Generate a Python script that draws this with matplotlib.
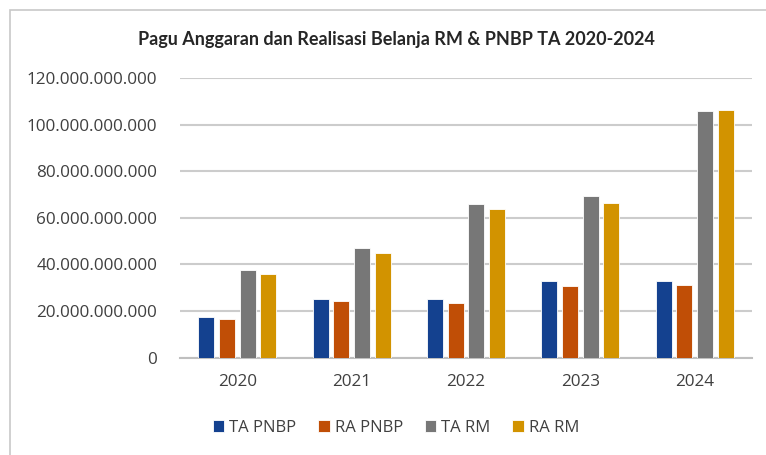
import numpy as np
import matplotlib
matplotlib.use('Agg')
import matplotlib.pyplot as plt
from matplotlib.patches import Rectangle
from matplotlib.ticker import FuncFormatter

plt.rcParams['font.family'] = ['Open Sans', 'DejaVu Sans']

years = ['2020', '2021', '2022', '2023', '2024']
series = ['TA PNBP', 'RA PNBP', 'TA RM', 'RA RM']
ta_pnbp = [17.6e9, 25.3e9, 25.0e9, 32.9e9, 32.9e9]
ra_pnbp = [16.5e9, 24.3e9, 23.3e9, 30.6e9, 31.2e9]
ta_rm = [37.6e9, 46.9e9, 66.0e9, 69.4e9, 106.0e9]
ra_rm = [35.9e9, 45.0e9, 64.0e9, 66.4e9, 106.3e9]
colors = ['#14418f', '#c04e06', '#777777', '#d29300']


def fmt(v, pos):
    return '{:,.0f}'.format(v).replace(',', '.')


def visualizer():
    fig = plt.figure(figsize=(7.66, 4.55), dpi=100)
    ax = fig.add_axes([180 / 766, 1 - 357.7 / 455, 572 / 766, (357.7 - 78) / 455])

    x = np.arange(len(years))
    width = 0.14
    step = 0.181
    data = [ta_pnbp, ra_pnbp, ta_rm, ra_rm]
    for i, vals in enumerate(data):
        ax.bar(x + (i - 1.5) * step, vals, width, color=colors[i],
               edgecolor='white', linewidth=0.6, label=series[i], zorder=3)

    ax.set_xlim(-0.5, 4.5)
    ax.set_ylim(0, 120e9)
    ax.set_yticks(np.arange(0, 121e9, 20e9))
    ax.yaxis.set_major_formatter(FuncFormatter(fmt))
    ax.set_xticks(x)
    ax.set_xticklabels(years)
    ax.grid(axis='y', color='#cccccc', linewidth=1.5, zorder=0)
    for s in ['top', 'right', 'left']:
        ax.spines[s].set_visible(False)
    ax.spines['bottom'].set_color('#bfbfbf')
    ax.spines['bottom'].set_linewidth(1.5)
    ax.tick_params(axis='both', length=0, labelsize=12.3, colors='#404040')
    ax.tick_params(axis='y', pad=16.5)
    ax.tick_params(axis='x', pad=12)

    fig.text(396 / 766, 1 - 40 / 455, 'Pagu Anggaran dan Realisasi Belanja RM & PNBP TA 2020-2024',
             ha='center', va='center', fontsize=13, fontweight='bold',
             family='Lato', color='#262626')

    fig.legend(loc='center', bbox_to_anchor=(396 / 766, 1 - 428 / 455), ncol=4,
               frameon=False, handlelength=0.7, handleheight=0.7, handletextpad=0.3,
               columnspacing=1.3, prop={'family': 'Open Sans', 'size': 12},
               labelcolor='#404040')

    # light frame round the chart, open at right and bottom
    fig.patches.append(Rectangle((9.5 / 766, -0.2), 1.5, 1.2 - 9.5 / 455,
                                 transform=fig.transFigure, fill=False,
                                 edgecolor='#c8c8c8', linewidth=1.2))

    fig.savefig('out.png', dpi=100)


if __name__ == '__main__':
    visualizer()
